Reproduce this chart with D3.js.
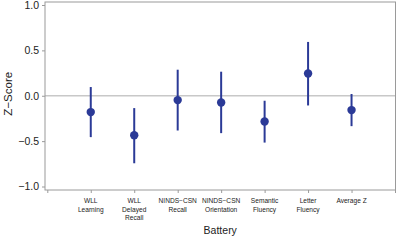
<!DOCTYPE html>
<html><head><meta charset="utf-8">
<script src="https://cdn.jsdelivr.net/npm/d3@7"></script>
<style>body{margin:0;background:#fff}svg{display:block}</style>
</head><body>
<script>
const categories = [["WLL","Learning"],["WLL","Delayed","Recall"],["NINDS\u2212CSN","Recall"],["NINDS\u2212CSN","Orientation"],["Semantic","Fluency"],["Letter","Fluency"],["Average Z"]];
const means = [-0.18, -0.435, -0.048, -0.074, -0.284, 0.246, -0.158];
const lower = [-0.456, -0.744, -0.383, -0.412, -0.516, -0.107, -0.335];
const upper = [0.096, -0.136, 0.287, 0.265, -0.055, 0.593, 0.019];
const yTicks = [1.0, 0.5, 0.0, -0.5, -1.0];

const W = 401, H = 242;
const svg = d3.select("body").append("svg").attr("width", W).attr("height", H);
const box = {l: 45, r: 395.5, t: 2, b: 190};
const y = d3.scaleLinear().domain([-1, 1]).range([186.5, 5]);
const x = d3.scaleLinear().domain([0, 8]).range([47.3, 395]);
const blue = "#2b3a97";
const font = "Liberation Sans, Arial, Helvetica, sans-serif";

// zero line
svg.append("line").attr("x1", box.l).attr("x2", box.r).attr("y1", y(0)).attr("y2", y(0))
  .attr("stroke", "#c8c8c8").attr("stroke-width", 1.5);

// box
svg.append("rect").attr("x", box.l).attr("y", box.t).attr("width", box.r - box.l).attr("height", box.b - box.t)
  .attr("fill", "none").attr("stroke", "#9a9a9a").attr("stroke-width", 1);

// y axis
const yAxis = d3.axisLeft(y).tickValues(yTicks).tickFormat(d3.format(".1f")).tickSize(3).tickPadding(3);
const ga = svg.append("g").attr("transform", `translate(${box.l},0)`).call(yAxis);
ga.select(".domain").remove();
ga.selectAll("line").attr("stroke", "#9a9a9a");
ga.selectAll("text").attr("font-family", font).attr("font-size", 10.5).attr("fill", "#222")
  .text(d => d < 0 ? "\u2212" + Math.abs(d).toFixed(1) : d.toFixed(1));

// x axis
const xAxis = d3.axisBottom(x).tickValues(d3.range(0, 9)).tickSize(3).tickFormat("");
const gx = svg.append("g").attr("transform", `translate(0,${box.b})`).call(xAxis);
gx.select(".domain").remove();
gx.selectAll("line").attr("stroke", "#9a9a9a");

// x category labels
categories.forEach((lines, i) => {
  const t = svg.append("text").attr("text-anchor", "middle").attr("font-family", font)
    .attr("font-size", 6.6).attr("fill", "#222");
  lines.forEach((s, j) => {
    t.append("tspan").attr("x", x(i + 1)).attr("y", 203 + j * 8.5).text(s);
  });
});

// axis titles
svg.append("text").attr("x", (box.l + box.r) / 2).attr("y", 233.5).attr("text-anchor", "middle")
  .attr("font-family", font).attr("font-size", 10.5).attr("fill", "#222").text("Battery");
svg.append("text").attr("transform", `translate(12,${y(0) - 2}) rotate(-90)`).attr("text-anchor", "middle")
  .attr("font-family", font).attr("font-size", 11.5).attr("fill", "#222").text("Z\u2212Score");

// error bars and points
const g = svg.append("g");
g.selectAll("line.err").data(means).enter().append("line").attr("class", "err")
  .attr("x1", (d, i) => x(i + 1)).attr("x2", (d, i) => x(i + 1))
  .attr("y1", (d, i) => y(lower[i])).attr("y2", (d, i) => y(upper[i]))
  .attr("stroke", blue).attr("stroke-width", 2);
g.selectAll("circle").data(means).enter().append("circle")
  .attr("cx", (d, i) => x(i + 1)).attr("cy", d => y(d)).attr("r", 4.2).attr("fill", blue);
</script>
</body></html>
